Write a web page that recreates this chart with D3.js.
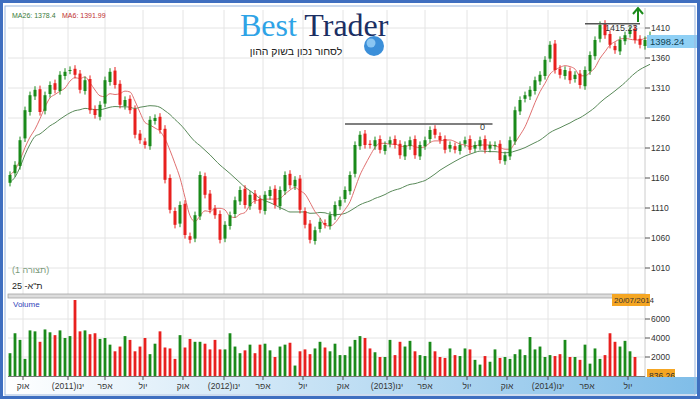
<!DOCTYPE html><html><head><meta charset="utf-8">
<script src="https://cdn.jsdelivr.net/npm/d3@7"></script>
<style>body{margin:0;background:#fff}svg{display:block;font-family:Arial,"DejaVu Sans",sans-serif}</style></head><body>
<svg id="c" width="700" height="400"></svg>
<script>
const closes=[1165,1182,1223,1273,1298,1307,1270,1298,1315,1307,1332,1337,1340,1332,1307,1323,1273,1265,1282,1323,1337,1315,1282,1290,1273,1232,1223,1215,1257,1260,1240,1157,1107,1082,1115,1065,1057,1098,1165,1132,1107,1098,1057,1082,1098,1123,1140,1115,1132,1123,1107,1132,1140,1115,1140,1165,1148,1157,1107,1082,1057,1073,1087,1082,1098,1115,1123,1140,1165,1215,1232,1215,1215,1223,1207,1215,1223,1215,1198,1215,1223,1198,1215,1223,1240,1232,1223,1207,1215,1207,1215,1223,1207,1215,1223,1207,1215,1215,1190,1198,1223,1273,1290,1298,1307,1323,1332,1357,1382,1340,1332,1340,1323,1332,1315,1340,1365,1390,1415,1398,1382,1373,1390,1398,1407,1390,1382,1390,1398];
const opens=[1152,1168,1180,1226,1270,1296,1308,1272,1300,1318,1305,1330,1339,1342,1334,1305,1325,1275,1262,1284,1320,1339,1317,1280,1292,1275,1234,1221,1213,1255,1262,1242,1160,1105,1084,1117,1063,1059,1096,1163,1134,1109,1100,1059,1080,1100,1121,1142,1113,1134,1125,1105,1130,1142,1113,1138,1167,1146,1159,1105,1084,1055,1075,1085,1080,1096,1113,1125,1138,1167,1213,1234,1217,1213,1225,1205,1217,1225,1217,1196,1213,1225,1196,1213,1225,1242,1230,1225,1209,1213,1205,1217,1225,1209,1213,1225,1209,1213,1217,1188,1196,1221,1271,1292,1296,1305,1321,1330,1359,1384,1342,1330,1338,1325,1334,1313,1338,1363,1392,1417,1400,1380,1371,1388,1400,1409,1392,1380,1392];
const volumes=[2400,4500,3800,1800,4800,4700,3600,4900,4600,4300,4800,4000,4200,8000,4700,4800,4400,4500,3900,4000,3300,2600,3100,4200,3800,2600,3100,4000,2300,3400,4700,3000,2900,1800,4300,3000,3900,3600,3600,3400,2800,3800,2800,2800,4500,3100,2400,2700,3300,2400,3300,3400,2700,2000,3100,3300,3500,1100,2600,2800,2300,2900,3600,3000,2600,3400,2200,2200,3100,3800,4200,4000,2900,2500,2000,2000,3800,2200,3600,3100,3700,2600,2200,2100,3600,2600,2000,1900,2900,2200,2100,2900,2800,1700,1200,2100,1500,2800,1900,2000,1800,2300,2800,2200,4100,2800,3100,2000,2200,2100,2300,3800,2000,2000,1700,3300,1300,2900,1800,2200,4500,3600,3100,3700,2600,2000];
const priceTicks=[1410,1360,1310,1260,1210,1160,1110,1060,1010];
const volTicks=[2000,4000,6000];
const monthLabels=["אוק","(2011)ינו","אפר","יול","אוק","(2012)ינו","אפר","יול","אוק","(2013)ינו","אפר","יול","אוק","(2014)ינו","אפר","יול"];
const monthPos=[2.6,11.6,19,26.6,34.6,42.8,50.6,58.6,66.6,75.4,83,91.4,99.4,107.6,115.4,123.6];
const svg=d3.select("#c");
const L=8,R=645;
const x=d3.scaleLinear().domain([0,125]).range([10,635]);
const y=d3.scaleLinear().domain([1010,1410]).range([268,28]);
const yv=d3.scaleLinear().domain([0,6000]).range([376,319]);
svg.append("rect").attr("width",700).attr("height",400).attr("fill","#fff");
const grid=svg.append("g").attr("stroke","#e4e4e4");
priceTicks.forEach(t=>grid.append("line").attr("x1",L).attr("x2",R).attr("y1",y(t)).attr("y2",y(t)));
volTicks.forEach(t=>grid.append("line").attr("x1",L).attr("x2",R).attr("y1",yv(t)).attr("y2",yv(t)));
monthPos.forEach(p=>{grid.append("line").attr("x1",x(p)).attr("x2",x(p)).attr("y1",10).attr("y2",294);grid.append("line").attr("x1",x(p)).attr("x2",x(p)).attr("y1",300).attr("y2",376);});
svg.append("line").attr("x1",R).attr("x2",R).attr("y1",8).attr("y2",378).attr("stroke","#ccc");
svg.append("rect").attr("x",L).attr("y",294).attr("width",R-L).attr("height",4).attr("fill","#ddd").attr("stroke","#999").attr("stroke-width",0.7);
// logo
svg.append("text").attr("x",240).attr("y",36).attr("font-family","Liberation Serif,serif").attr("font-size",32)
 .selectAll("tspan").data([["Best ","#2ea3e6"],["Trader","#1b2f63"]]).join("tspan").attr("fill",d=>d[1]).text(d=>d[0]);
svg.append("text").attr("x",296).attr("y",55).attr("text-anchor","middle").attr("font-size",10.5).attr("fill","#222").text("לסחור נכון בשוק ההון");
svg.append("circle").attr("cx",374).attr("cy",46).attr("r",10).attr("fill","#3b8fd9");
svg.append("circle").attr("cx",371).attr("cy",43).attr("r",4.5).attr("fill","#9fd3f7").attr("opacity",.8);
function maFull(k){return closes.map((c,i)=>d3.mean(closes.slice(Math.max(0,i-k+1),i+1)));}
const ma26=maFull(26),ma6=maFull(6);
const ln=d3.line().x((d,i)=>x(i)).y(d=>y(d)).curve(d3.curveMonotoneX);
svg.append("path").attr("d",ln(ma26.map(v=>v-12))).attr("fill","none").attr("stroke","#5a8a5a").attr("stroke-width",1);
svg.append("path").attr("d",ln(ma6)).attr("fill","none").attr("stroke","#e07070").attr("stroke-width",1);
const g=svg.append("g");
closes.forEach((c,i)=>{const o=opens[i];const up=c>=o;const col=up?"#1a8a1a":"#e8201e";
 const hi=Math.max(o,c)+6,lo=Math.min(o,c)-6;
 g.append("line").attr("x1",x(i)).attr("x2",x(i)).attr("y1",y(hi)).attr("y2",y(lo)).attr("stroke",col);
 const t=y(Math.max(o,c)),b=y(Math.min(o,c));
 g.append("rect").attr("x",x(i)-1.5).attr("y",t).attr("width",3).attr("height",Math.max(1,b-t)).attr("fill",col);
 svg.append("rect").attr("x",x(i)-1.4).attr("y",yv(volumes[i])).attr("width",2.8).attr("height",376-yv(volumes[i])).attr("fill",col);
});
svg.append("line").attr("x1",x(67)).attr("x2",x(96.5)).attr("y1",y(1250)).attr("y2",y(1250)).attr("stroke","#555").attr("stroke-width",1.5);
svg.append("text").attr("x",x(94)).attr("y",y(1250)+6).attr("font-size",9).attr("fill","#333").text("0");
svg.append("line").attr("x1",x(115)).attr("x2",x(126)).attr("y1",y(1417)).attr("y2",y(1417)).attr("stroke","#555").attr("stroke-width",1.5);
svg.append("text").attr("x",x(119)).attr("y",y(1417)+7).attr("font-size",9).attr("fill","#333").text("1415.23");
svg.append("path").attr("d","M638,22 L638,9 M633,14 L638,8 L643,14").attr("stroke","#1a8a1a").attr("stroke-width",2).attr("fill","none");
priceTicks.forEach(t=>{svg.append("line").attr("x1",R).attr("x2",R+5).attr("y1",y(t)).attr("y2",y(t)).attr("stroke","#555");
 svg.append("text").attr("x",R+6).attr("y",y(t)+3).attr("font-size",8.5).attr("fill","#333").text(t);});
volTicks.forEach(t=>{svg.append("line").attr("x1",R).attr("x2",R+5).attr("y1",yv(t)).attr("y2",yv(t)).attr("stroke","#555");
 svg.append("text").attr("x",R+6).attr("y",yv(t)+3).attr("font-size",8.5).attr("fill","#333").text(t);});
svg.append("rect").attr("x",R+2).attr("y",35).attr("width",50).attr("height",13).attr("fill","#8fd0f5");
svg.append("text").attr("x",R+5).attr("y",45).attr("font-size",9.5).attr("fill","#145").text("1398.24");
svg.append("rect").attr("x",R+2).attr("y",369).attr("width",28).attr("height",13).attr("fill","#f5a623");
svg.append("text").attr("x",R+4).attr("y",379).attr("font-size",8.5).attr("fill","#333").text("836.26");
svg.append("rect").attr("x",612).attr("y",294).attr("width",38).attr("height",12).attr("fill","#f5a623");
svg.append("text").attr("x",614).attr("y",303).attr("font-size",8).attr("fill","#333").text("20/07/2014");
svg.append("text").attr("x",12).attr("y",18).attr("font-size",7).attr("fill","#3a7a3a").text("MA26: 1378.4");
svg.append("text").attr("x",62).attr("y",18).attr("font-size",7).attr("fill","#c03030").text("MA6: 1391.99");
svg.append("text").attr("x",12).attr("y",273).attr("font-size",9).attr("fill","#7a9a7a").text("(תצורה 1)");
svg.append("text").attr("x",12).attr("y",289).attr("font-size",9).attr("fill","#222").text("ת\"א- 25");
svg.append("text").attr("x",13).attr("y",307).attr("font-size",8).attr("fill","#3344bb").text("Volume");
const gr=svg.append("defs").append("linearGradient").attr("id","bg").attr("x1",0).attr("x2",1);
gr.append("stop").attr("offset",0).attr("stop-color","#ffffff");gr.append("stop").attr("offset",1).attr("stop-color","#7fbde8");
svg.append("rect").attr("x",L).attr("y",377).attr("width",692).attr("height",17).attr("fill","url(#bg)");
svg.append("line").attr("x1",L).attr("x2",R).attr("y1",376.5).attr("y2",376.5).attr("stroke","#777");
monthPos.forEach((p,i)=>{svg.append("line").attr("x1",x(p)).attr("x2",x(p)).attr("y1",376).attr("y2",380).attr("stroke","#555");
 svg.append("text").attr("x",x(p)).attr("y",389).attr("text-anchor","middle").attr("font-size",8.5).attr("fill","#333").text(monthLabels[i]);});
svg.append("rect").attr("x",1.5).attr("y",1.5).attr("width",697).attr("height",396).attr("fill","none").attr("stroke","#3f6fc0").attr("stroke-width",3);
svg.append("rect").attr("x",5).attr("y",6).attr("width",690).attr("height",389).attr("fill","none").attr("stroke","#9bb7de").attr("stroke-width",1);
</script></body></html>
